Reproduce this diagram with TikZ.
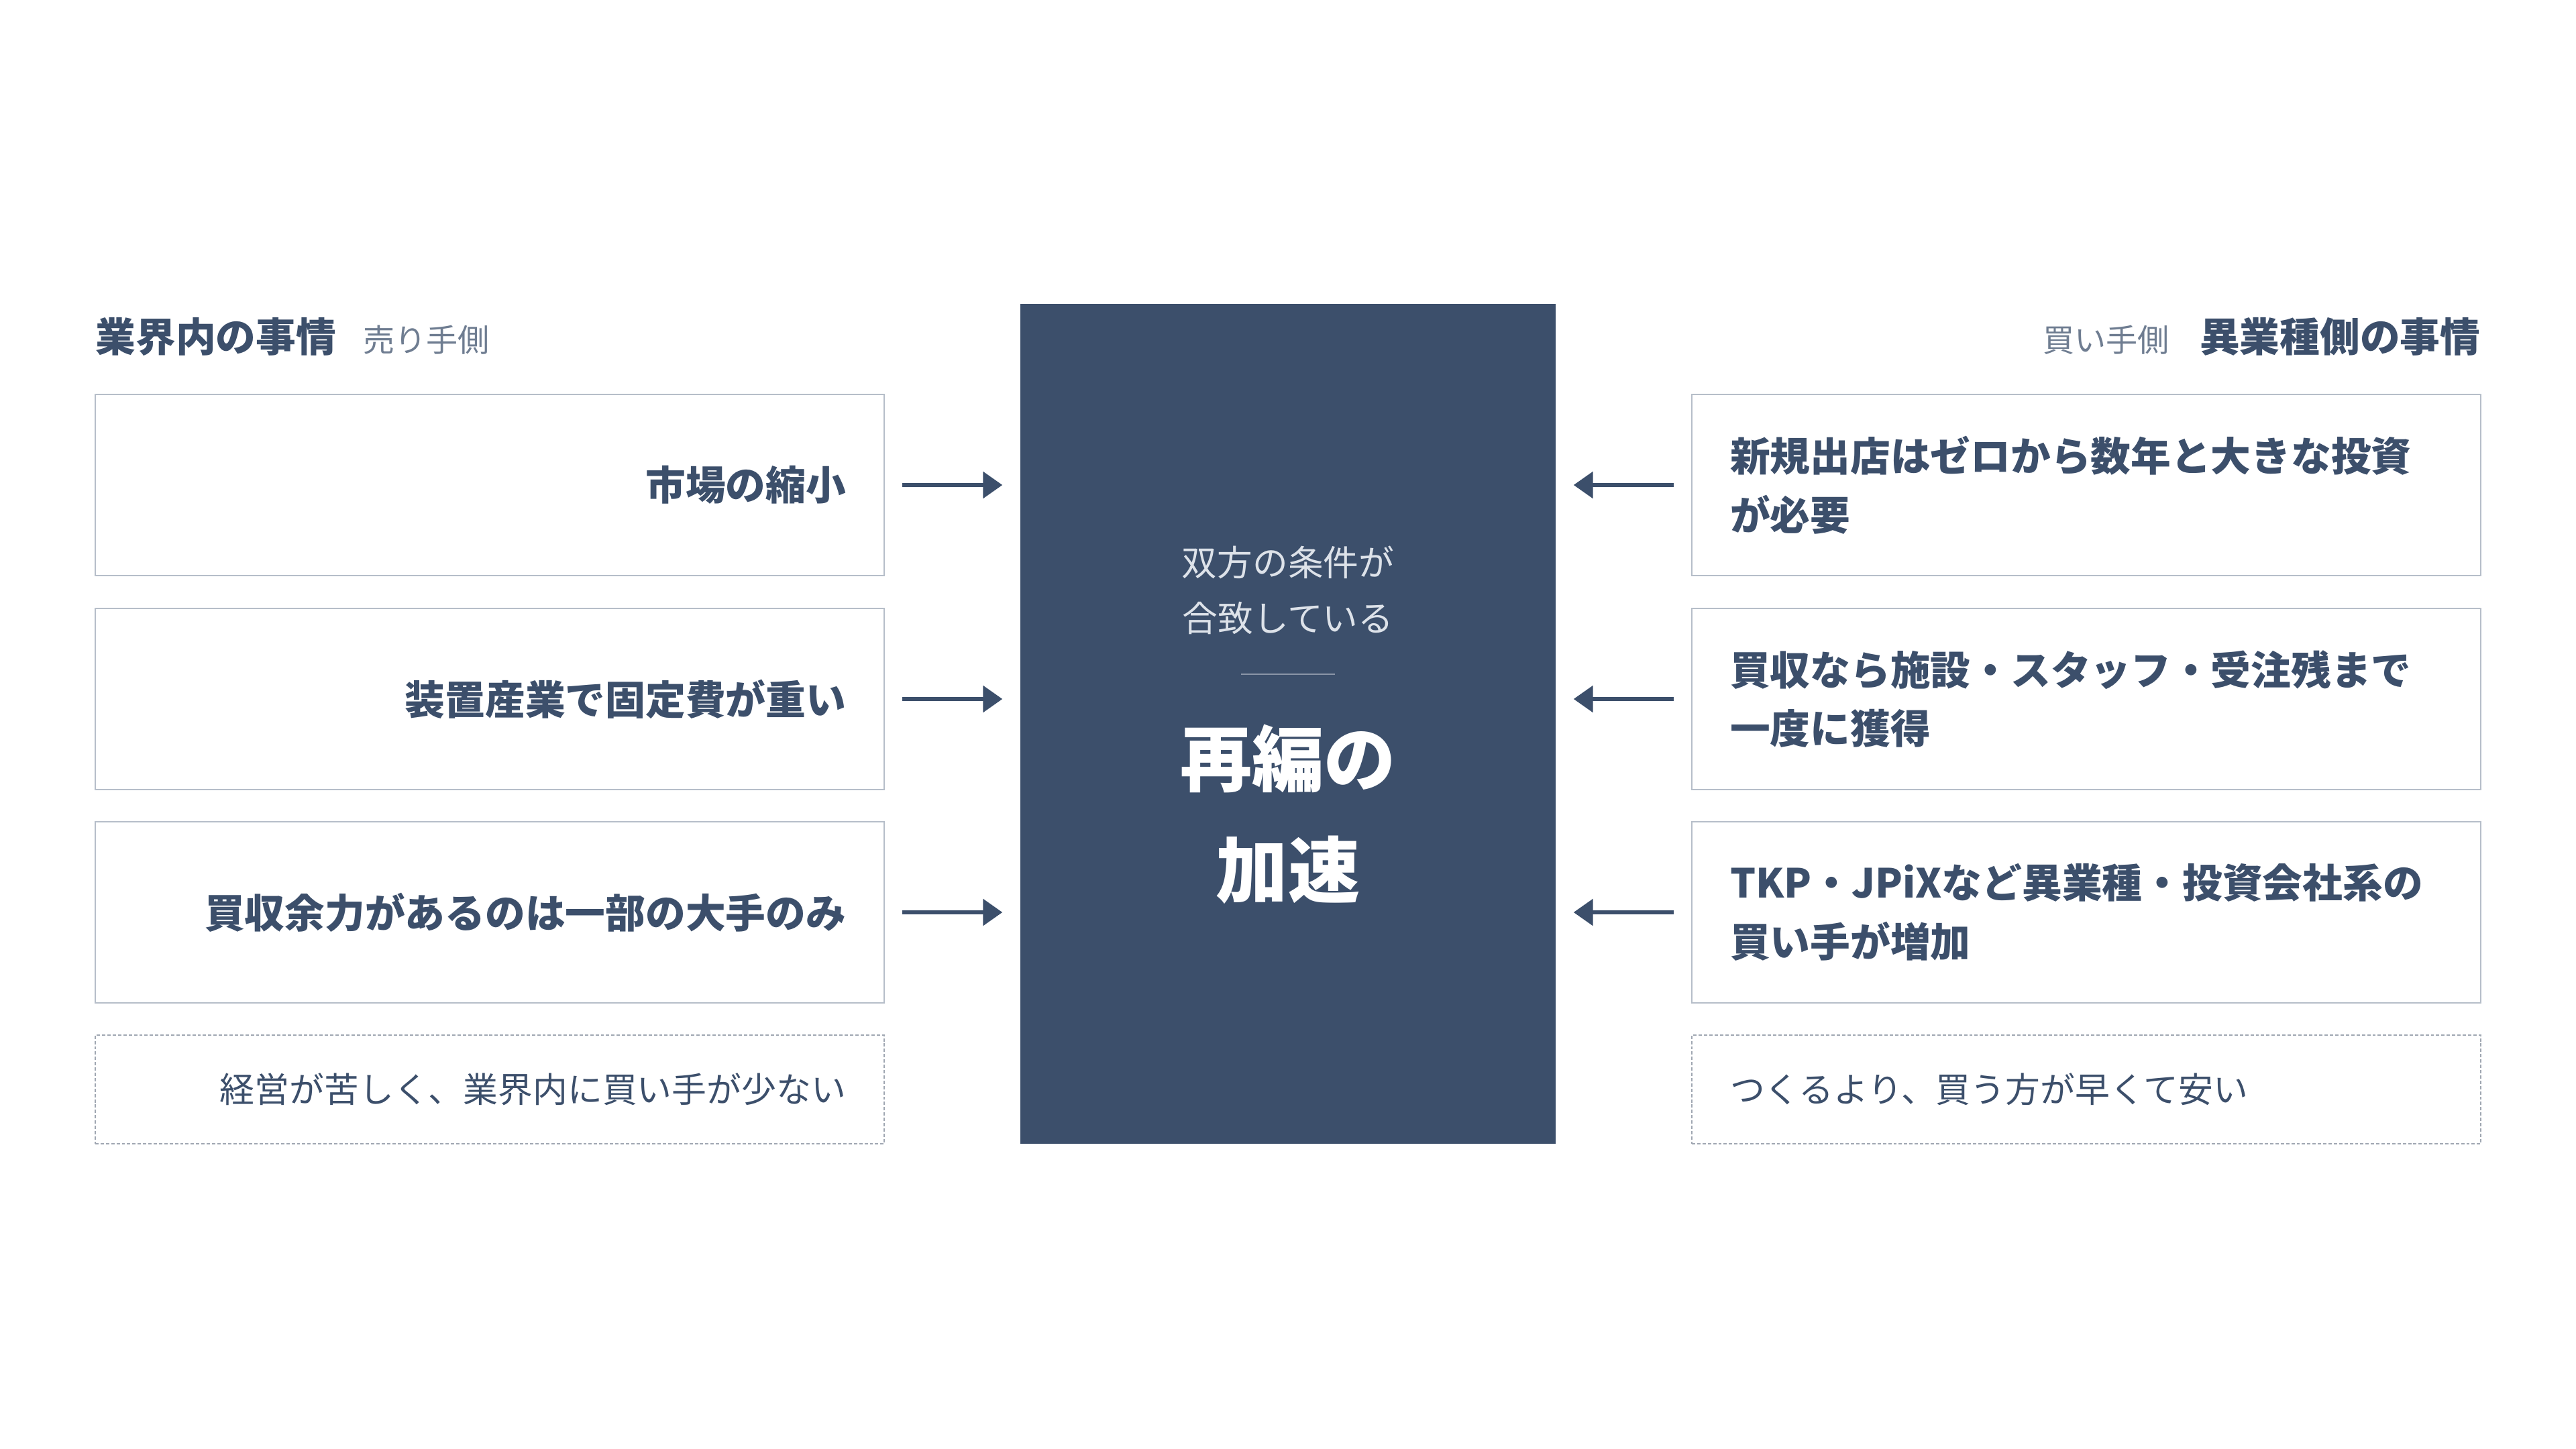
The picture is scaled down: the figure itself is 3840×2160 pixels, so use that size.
\documentclass[tikz,border=0pt]{standalone}
\usepackage{fontspec}
\setmainfont{Noto Sans CJK JP}
\usetikzlibrary{positioning,arrows.meta}

\definecolor{navy}{HTML}{3C4F6B}
\definecolor{edge}{HTML}{B6BEC9}
\definecolor{dashcol}{HTML}{A0A7B2}
\definecolor{muted}{HTML}{6F7D91}
\definecolor{pale}{HTML}{DDE2E9}
\definecolor{rulecol}{HTML}{8A95A7}

\tikzset{
    card/.style={draw=edge, line width=0.8pt, minimum height=27mm, text width=106.2mm,
        inner xsep=5.7mm, inner ysep=0pt, text=navy, font=\bfseries\fontsize{17pt}{25pt}\selectfont},
    note/.style={draw=dashcol, line width=0.65pt, dash pattern=on 1.4pt off 0.85pt, minimum height=16.2mm,
        text width=106.2mm, inner xsep=5.7mm, inner ysep=0pt, text=navy, font=\fontsize{14.75pt}{20pt}\selectfont},
    head/.style={inner sep=0pt, text=navy, font=\bfseries\fontsize{17pt}{20pt}\selectfont},
    subhead/.style={inner sep=0pt, text=muted, font=\fontsize{13.4pt}{16pt}\selectfont},
    flow/.style={navy, line width=1.7pt, -{Triangle[length=2.9mm,width=3.9mm]},
        shorten <=2.6mm, shorten >=2.6mm}
}

\begin{document}
\begin{tikzpicture}[x=0.1mm, y=-0.1mm]
    \path[use as bounding box, fill=white] (0,0) rectangle (3840,2160);

    % headings
    \node[head, anchor=west] (lhead) at (142,502) {業界内の事情};
    \node[subhead, right=3.9mm of lhead.base east, anchor=base west] (lsub) {売り手側};
    \node[head, anchor=east] (rhead) at (3698,502) {異業種側の事情};
    \node[subhead, left=4.4mm of rhead.base west, anchor=base east] (rsub) {買い手側};

    % centre block
    \node[fill=navy, minimum width=79.8mm, minimum height=125.2mm, inner sep=0pt] (hub) at (1920,1079) {};
    \node[text=pale, align=center, font=\fontsize{15pt}{23.8pt}\selectfont] (agree) at (1920,880) {双方の条件が\\合致している};
    \draw[rulecol, line width=0.6pt] (1850,1005) -- (1990,1005);
    \node[text=white, align=center, font=\bfseries\fontsize{30.5pt}{47.3pt}\selectfont] (speed) at (1920,1214) {再編の\\加速};

    % seller side
    \foreach \y/\name/\txt in {723/l1/市場の縮小, 1042/l2/装置産業で固定費が重い, 1360/l3/買収余力があるのは一部の大手のみ}
        \node[card, align=right] (\name) at (730,\y) {\txt};
    \node[note, align=right] (lnote) at (730,1624) {経営が苦しく、業界内に買い手が少ない};

    % buyer side
    \foreach \y/\name/\txt in {723/r1/{新規出店はゼロから数年と大きな投資\\が必要},
                               1042/r2/{買収なら施設・スタッフ・受注残まで\\一度に獲得},
                               1360/r3/{TKP・JPiXなど異業種・投資会社系の\\買い手が増加}}
        \node[card, align=left] (\name) at (3110,\y) {\txt};
    \node[note, align=left] (rnote) at (3110,1624) {つくるより、買う方が早くて安い};

    % arrows into the centre
    \foreach \n in {1,2,3} {
        \draw[flow] (l\n.east) -- (l\n.east -| hub.west);
        \draw[flow] (r\n.west) -- (r\n.west -| hub.east);
    }
\end{tikzpicture}
\end{document}
